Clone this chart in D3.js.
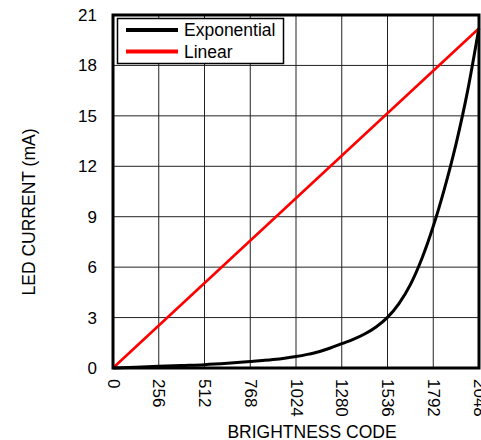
<!DOCTYPE html>
<html>
<head>
<meta charset="utf-8">
<script src="https://cdn.jsdelivr.net/npm/d3@7"></script>
<style>
  body { margin: 0; background: #fff; }
  svg { display: block; font-family: "Liberation Sans", Arial, sans-serif; }
</style>
</head>
<body>
<svg id="chart" width="481" height="440"></svg>
<script>
const xTicks = [0, 256, 512, 768, 1024, 1280, 1536, 1792, 2048];
const yTicks = [0, 3, 6, 9, 12, 15, 18, 21];

const expCodes = [0, 128, 256, 384, 512, 640, 768, 896, 960, 1024, 1088, 1152, 1216, 1280, 1344, 1408, 1472, 1536, 1600, 1664, 1728, 1792, 1856, 1920, 1984, 2047];
const expValues = [0, 0.05, 0.1, 0.15, 0.2, 0.28, 0.38, 0.5, 0.58, 0.68, 0.81, 0.97, 1.19, 1.45, 1.7, 2.02, 2.44, 3.01, 3.83, 4.96, 6.5, 8.43, 10.72, 13.35, 16.47, 20.2];

const linCodes = [0, 2047];
const linValues = [0, 20.2];

const legendItems = [
  { name: "Exponential", color: "#000" },
  { name: "Linear", color: "#ff0000" }
];

const svg = d3.select("#chart");
const plotLeft = 113, plotRight = 479, plotTop = 15, plotBottom = 368;

const x = d3.scaleLinear().domain([0, 2048]).range([plotLeft, plotRight]);
const y = d3.scaleLinear().domain([0, 21]).range([plotBottom, plotTop]);

// grid
const grid = svg.append("g").attr("stroke", "#222").attr("stroke-width", 1);
xTicks.forEach(t => {
  grid.append("line").attr("x1", x(t)).attr("x2", x(t)).attr("y1", plotTop).attr("y2", plotBottom);
});
yTicks.forEach(t => {
  grid.append("line").attr("x1", plotLeft).attr("x2", plotRight).attr("y1", y(t)).attr("y2", y(t));
});

// axes (labels only)
const xAxis = svg.append("g").attr("transform", `translate(0,${plotBottom})`)
  .call(d3.axisBottom(x).tickValues(xTicks).tickSize(0).tickFormat(d3.format("d")));
xAxis.select(".domain").remove();
xAxis.selectAll("text")
  .attr("y", 0).attr("x", 11).attr("dy", "0.35em")
  .attr("transform", "rotate(90)")
  .style("text-anchor", "start")
  .attr("font-size", 17).attr("fill", "#000")
  .attr("font-family", "Liberation Sans, Arial, sans-serif");

const yAxis = svg.append("g").attr("transform", `translate(${plotLeft},0)`)
  .call(d3.axisLeft(y).tickValues(yTicks).tickSize(0).tickPadding(16));
yAxis.select(".domain").remove();
yAxis.selectAll("text")
  .attr("font-size", 17).attr("fill", "#000")
  .attr("font-family", "Liberation Sans, Arial, sans-serif");

// lines
const line = d3.line().x(d => x(d[0])).y(d => y(d[1])).curve(d3.curveMonotoneX);
svg.append("path").datum(linCodes.map((c, i) => [c, linValues[i]]))
  .attr("d", line).attr("fill", "none").attr("stroke", "#ff0000").attr("stroke-width", 2.6);
svg.append("path").datum(expCodes.map((c, i) => [c, expValues[i]]))
  .attr("d", line).attr("fill", "none").attr("stroke", "#000").attr("stroke-width", 3);

// frame
svg.append("rect").attr("x", plotLeft).attr("y", plotTop).attr("width", plotRight - plotLeft).attr("height", plotBottom - plotTop)
  .attr("fill", "none").attr("stroke", "#000").attr("stroke-width", 3);

// legend
const legend = svg.append("g").attr("transform", "translate(117,18)");
legend.append("rect").attr("x", 0.5).attr("y", 0.5).attr("width", 166).attr("height", 45)
  .attr("fill", "#fff").attr("stroke", "#000").attr("stroke-width", 1.5);
legendItems.forEach((item, i) => {
  const cy = 12 + i * 21.5;
  legend.append("line").attr("x1", 9).attr("x2", 61).attr("y1", cy).attr("y2", cy)
    .attr("stroke", item.color).attr("stroke-width", 4);
  legend.append("text").attr("x", 67).attr("y", cy + 6).attr("font-size", 17.5)
    .attr("fill", "#000").text(item.name);
});

// titles
svg.append("text").attr("x", 312).attr("y", 437.5).attr("text-anchor", "middle")
  .attr("font-size", 17.5).attr("fill", "#000").text("BRIGHTNESS CODE");
svg.append("text").attr("transform", "translate(35,212) rotate(-90)").attr("text-anchor", "middle")
  .attr("font-size", 17.5).attr("fill", "#000").text("LED CURRENT (mA)");
</script>
</body>
</html>
